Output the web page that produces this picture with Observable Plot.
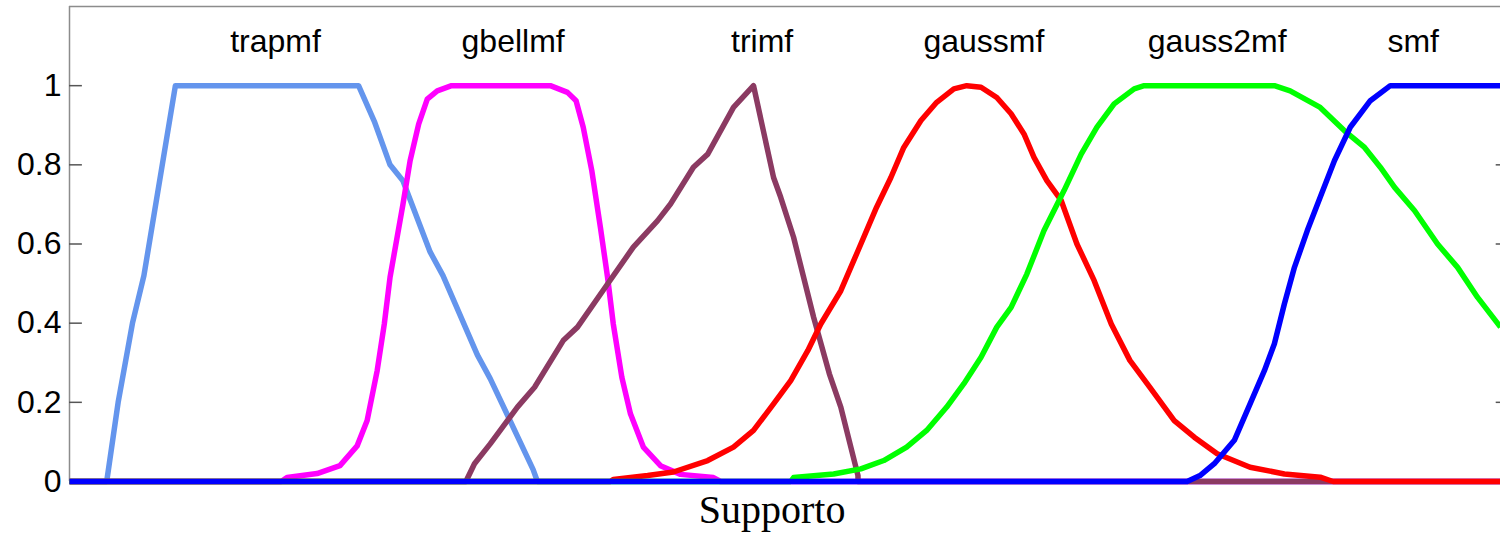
<!DOCTYPE html>
<html>
<head>
<meta charset="utf-8">
<script src="https://cdn.jsdelivr.net/npm/d3@7"></script>
<script src="https://cdn.jsdelivr.net/npm/@observablehq/plot@0.6"></script>
<style>
  body { margin: 0; background: #fff; }
  #chart svg { display: block; }
</style>
</head>
<body>
<div id="chart"></div>
<script>
// Membership functions sampled over the support (0 … 10)
const trapmfX = [0, 0.26, 0.34, 0.44, 0.52, 0.74, 2.02, 2.13, 2.24, 2.33, 2.52, 2.61, 2.85, 2.94, 3.24, 3.27, 10];
const trapmfY = [0, 0, 0.2, 0.4, 0.52, 1, 1, 0.91, 0.8, 0.76, 0.58, 0.52, 0.32, 0.26, 0.03, 0, 0];

const gbellmfX = [0, 1.48, 1.52, 1.73, 1.89, 2.01, 2.08, 2.15, 2.20, 2.24, 2.33, 2.38, 2.44, 2.50, 2.57, 2.67, 3.36, 3.48, 3.54, 3.59, 3.65, 3.71, 3.76, 3.80, 3.86, 3.92, 4.01, 4.13, 4.27, 4.50, 4.55, 10];
const gbellmfY = [0, 0, 0.01, 0.02, 0.04, 0.09, 0.154, 0.28, 0.398, 0.516, 0.70, 0.81, 0.903, 0.966, 0.987, 1, 1, 0.983, 0.962, 0.895, 0.785, 0.642, 0.516, 0.398, 0.263, 0.171, 0.087, 0.04, 0.018, 0.01, 0, 0];

const trimfX = [0, 2.77, 2.83, 2.94, 3.13, 3.25, 3.45, 3.55, 3.76, 3.94, 4.11, 4.20, 4.36, 4.46, 4.64, 4.78, 4.92, 4.97, 5.06, 5.20, 5.31, 5.39, 5.51, 5.51, 10];
const trimfY = [0, 0, 0.045, 0.095, 0.188, 0.238, 0.356, 0.39, 0.499, 0.592, 0.659, 0.701, 0.794, 0.827, 0.945, 1, 0.768, 0.718, 0.617, 0.415, 0.272, 0.188, 0.015, 0, 0];

const gaussmfX = [0, 3.78, 3.80, 4.04, 4.22, 4.46, 4.64, 4.78, 4.92, 5.04, 5.16, 5.25, 5.39, 5.51, 5.64, 5.74, 5.83, 5.95, 6.06, 6.18, 6.27, 6.37, 6.48, 6.58, 6.67, 6.74, 6.83, 6.93, 7.04, 7.16, 7.28, 7.41, 7.55, 7.72, 7.86, 8.02, 8.25, 8.49, 8.74, 8.83, 10];
const gaussmfY = [0, 0, 0.005, 0.015, 0.024, 0.053, 0.087, 0.129, 0.196, 0.255, 0.331, 0.398, 0.482, 0.583, 0.693, 0.768, 0.844, 0.912, 0.958, 0.992, 1, 0.996, 0.970, 0.929, 0.878, 0.819, 0.760, 0.710, 0.600, 0.508, 0.398, 0.306, 0.238, 0.154, 0.112, 0.070, 0.036, 0.019, 0.011, 0, 0];

const gauss2mfX = [0, 5.04, 5.06, 5.34, 5.53, 5.69, 5.85, 5.99, 6.13, 6.25, 6.37, 6.48, 6.58, 6.69, 6.81, 6.95, 7.07, 7.18, 7.30, 7.44, 7.51, 8.42, 8.53, 8.74, 8.91, 9.05, 9.16, 9.26, 9.40, 9.56, 9.70, 9.84, 10];
const gauss2mfY = [0, 0, 0.01, 0.019, 0.032, 0.053, 0.087, 0.129, 0.188, 0.247, 0.314, 0.390, 0.44, 0.524, 0.634, 0.735, 0.827, 0.895, 0.954, 0.992, 1, 1, 0.987, 0.945, 0.886, 0.844, 0.794, 0.743, 0.684, 0.600, 0.541, 0.465, 0.390];

const smfX = [0, 7.81, 7.90, 8.00, 8.14, 8.25, 8.35, 8.42, 8.49, 8.56, 8.65, 8.74, 8.84, 8.95, 9.09, 9.23, 10];
const smfY = [0, 0, 0.015, 0.045, 0.104, 0.196, 0.280, 0.348, 0.449, 0.541, 0.634, 0.718, 0.811, 0.895, 0.962, 1, 1];

const names = ["trapmf", "gbellmf", "trimf", "gaussmf", "gauss2mf", "smf"];
const colors = ["#6495ED", "#FF00FF", "#8B3A62", "#FF0000", "#00FF00", "#0000FF"];
const labelX = [1.44, 3.10, 4.84, 6.39, 8.02, 9.39];
const labelY = 1.11;
const yTicks = [0, 0.2, 0.4, 0.6, 0.8, 1];
const xLabel = "Supporto";

const seriesX = [trapmfX, gbellmfX, trimfX, gaussmfX, gauss2mfX, smfX];
const seriesY = [trapmfY, gbellmfY, trimfY, gaussmfY, gauss2mfY, smfY];

const rows = names.flatMap((name, i) =>
  seriesX[i].map((x, j) => ({ name, x, y: seriesY[i][j] }))
);
const labels = names.map((name, i) => ({ name, x: labelX[i], y: labelY }));

const xMin = 0, xMax = 10, yMax = 1.2;

const chart = Plot.plot({
  width: 1500,
  height: 533,
  marginLeft: 69,
  marginRight: 0,
  marginTop: 6,
  marginBottom: 52,
  style: { fontFamily: "'Liberation Sans', Arial, sans-serif", color: "#000", background: "#fff" },
  x: { domain: [xMin, xMax], axis: null },
  y: { domain: [0, yMax], axis: null },
  color: { domain: names, range: colors },
  marks: [
    // box: left and top edges
    Plot.ruleX([xMin], { y1: 0, y2: yMax, stroke: "#8c8c8c", strokeWidth: 1.5 }),
    Plot.ruleY([yMax], { x1: xMin, x2: xMax, stroke: "#8c8c8c", strokeWidth: 1.5 }),
    // inward ticks on both sides
    Plot.ruleY(yTicks, { x1: xMin, x2: xMin + 0.09, stroke: "#555", strokeWidth: 1.5 }),
    Plot.ruleY(yTicks, { x1: xMax - 0.03, x2: xMax, stroke: "#555", strokeWidth: 1.5 }),
    Plot.axisY({ ticks: yTicks, tickSize: 0, tickPadding: 8, fontSize: 32, tickFormat: d => String(d), label: null }),
    Plot.line(rows, {
      x: "x", y: "y", z: "name", stroke: "name",
      strokeWidth: 5.5, strokeLinejoin: "round", strokeLinecap: "butt"
    }),
    Plot.text(labels, {
      x: "x", y: "y", text: "name", fontSize: 32, fill: "#000",
      textAnchor: "middle", lineAnchor: "middle"
    }),
    Plot.text([xLabel], {
      x: 4.91, frameAnchor: "bottom", text: d => d, lineAnchor: "top", dy: 13,
      fontSize: 40, fill: "#000", fontFamily: "'Liberation Serif', 'Times New Roman', serif"
    })
  ]
});

document.getElementById("chart").append(chart);
</script>
</body>
</html>
